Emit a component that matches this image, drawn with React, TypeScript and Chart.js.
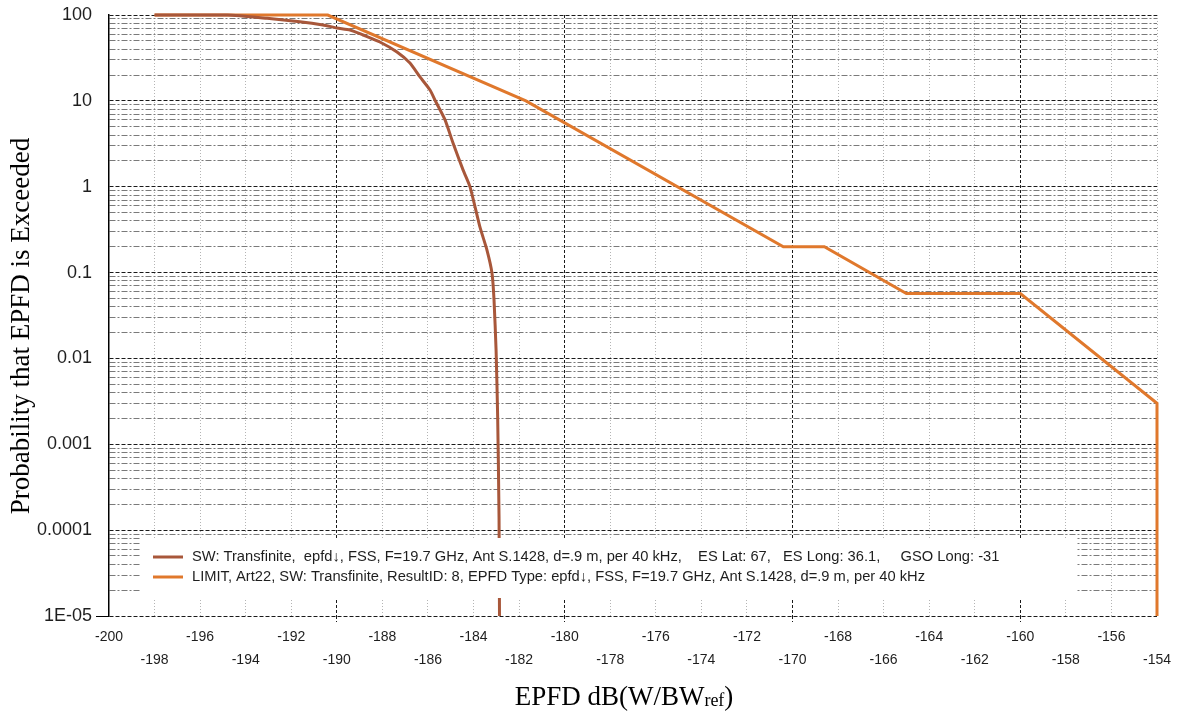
import React, { useEffect, useRef } from "react";
import { Chart, registerables } from "chart.js";

Chart.register(...registerables);

// ---- Data ----
const swLabel =
  "SW: Transfinite,  epfd\u2193, FSS, F=19.7 GHz, Ant S.1428, d=.9 m, per 40 kHz,    ES Lat: 67,   ES Long: 36.1,     GSO Long: -31";
const limitLabel =
  "LIMIT, Art22, SW: Transfinite, ResultID: 8, EPFD Type: epfd\u2193, FSS, F=19.7 GHz, Ant S.1428, d=.9 m, per 40 kHz";

const swX = [
  -198.0, -194.8, -193.06, -191.62, -190.61, -189.99, -189.42, -188.85, -188.11, -187.36,
  -186.79, -186.35, -185.91, -185.65, -185.25, -184.9, -184.46, -184.15, -183.72, -183.41,
  -183.19, -183.1, -183.01, -182.94, -182.88, -182.86,
];
const swY = [
  100, 100, 91.5, 83.5, 76.5, 70.6, 66.9, 58.5, 48.5, 37.1,
  27.6, 19.0, 13.4, 9.7, 6.0, 3.23, 1.57, 0.99, 0.34, 0.183,
  0.099, 0.048, 0.0125, 0.00207, 0.000142, 0.00001,
];

const limitX = [-198, -190.4, -181.7, -170.4, -168.6, -165.0, -160.0, -154.0, -154.0];
const limitY = [100, 100, 10, 0.2, 0.2, 0.057, 0.057, 0.003, 0.00001];

const xMin = -200;
const xMax = -154;
const xStep = 2;
const yMin = 1e-5;
const yMax = 100;
const yDecadeLabels = ["1E-05", "0.0001", "0.001", "0.01", "0.1", "1", "10", "100"]; // exponents -5..2

const xTitleMain = "EPFD dB(W/BW";
const xTitleSub = "ref";
const xTitleEnd = ")";
const yTitle = "Probability that EPFD is Exceeded";

const swColor = "#A8573A";
const limitColor = "#E0782C";

const SANS = '"Liberation Sans", Arial, sans-serif';
const SERIF = '"Liberation Serif", "Times New Roman", serif';

function expOf(v: number) {
  return Math.round(Math.log10(v));
}
function isDecade(v: number) {
  const e = expOf(v);
  return Math.abs(v - Math.pow(10, e)) / Math.pow(10, e) < 1e-6;
}

const overlayPlugin = {
  id: "overlay",
  afterDatasetsDraw(chart: any) {
    const ctx = chart.ctx as CanvasRenderingContext2D;
    // legend box inside chart area
    ctx.save();
    ctx.fillStyle = "#ffffff";
    ctx.fillRect(140, 538, 936, 60);
    const items = chart.data.datasets;
    items.forEach((ds: any, i: number) => {
      const y = 557 + i * 20;
      ctx.strokeStyle = ds.borderColor;
      ctx.lineWidth = 3;
      ctx.setLineDash([]);
      ctx.beginPath();
      ctx.moveTo(153, y);
      ctx.lineTo(183, y);
      ctx.stroke();
      ctx.fillStyle = "#1e1e1e";
      ctx.font = `14.7px ${SANS}`;
      ctx.textBaseline = "middle";
      ctx.textAlign = "left";
      ctx.fillText(ds.label, 192, y);
    });
    ctx.restore();
  },
  afterDraw(chart: any) {
    const ctx = chart.ctx as CanvasRenderingContext2D;
    ctx.save();
    ctx.fillStyle = "#000";
    // Y title
    ctx.font = `27px ${SERIF}`;
    ctx.textAlign = "center";
    ctx.textBaseline = "middle";
    ctx.translate(22, 326);
    ctx.rotate(-Math.PI / 2);
    ctx.fillText(yTitle, 0, 0);
    ctx.restore();

    // X title with subscript
    ctx.save();
    ctx.fillStyle = "#000";
    ctx.textBaseline = "alphabetic";
    ctx.textAlign = "left";
    const mainFont = `27px ${SERIF}`;
    const subFont = `18px ${SERIF}`;
    ctx.font = mainFont;
    const w1 = ctx.measureText(xTitleMain).width;
    const w3 = ctx.measureText(xTitleEnd).width;
    ctx.font = subFont;
    const w2 = ctx.measureText(xTitleSub).width;
    const total = w1 + w2 + w3;
    const cx = 624;
    let x = cx - total / 2;
    const base = 705;
    ctx.font = mainFont;
    ctx.fillText(xTitleMain, x, base);
    x += w1;
    ctx.font = subFont;
    ctx.fillText(xTitleSub, x, base + 1);
    x += w2;
    ctx.font = mainFont;
    ctx.fillText(xTitleEnd, x, base);
    ctx.restore();
  },
};

export default function App() {
  const ref = useRef<HTMLCanvasElement | null>(null);

  useEffect(() => {
    if (!ref.current) return;
    const chart = new Chart(ref.current, {
      type: "line",
      data: {
        datasets: [
          {
            label: swLabel,
            data: swX.map((x, i) => ({ x, y: swY[i] })),
            borderColor: swColor,
            backgroundColor: swColor,
            borderWidth: 3,
            pointRadius: 0,
            tension: 0.2,
            clip: false as any,
          },
          {
            label: limitLabel,
            data: limitX.map((x, i) => ({ x, y: limitY[i] })),
            borderColor: limitColor,
            backgroundColor: limitColor,
            borderWidth: 3,
            pointRadius: 0,
            tension: 0,
            clip: false as any,
          },
        ],
      },
      options: {
        animation: false,
        responsive: false,
        devicePixelRatio: 1,
        layout: { padding: { left: 0, right: 20, top: 15, bottom: 0 } },
        plugins: {
          legend: { display: false },
          tooltip: { enabled: false },
        },
        scales: {
          x: {
            type: "linear",
            min: xMin,
            max: xMax,
            afterFit: (scale: any) => {
              scale.height = 101;
            },
            ticks: {
              stepSize: xStep,
              autoSkip: false,
              maxRotation: 0,
              minRotation: 0,
              padding: 4,
              color: "#1e1e1e",
              font: { family: SANS, size: 14, lineHeight: 23 / 14 },
              callback: (value: any, index: number) =>
                index % 2 === 0 ? String(value) : ["", String(value)],
            },
            grid: {
              drawTicks: true,
              tickLength: 6,
              lineWidth: 1,
              color: (c: any) => {
                const v = c.tick ? c.tick.value : 0;
                if (v === xMin) return "rgba(0,0,0,0)";
                return v % 10 === 0 ? "#1a1a1a" : "#b4b4b4";
              },
              tickColor: (c: any) => {
                const v = c.tick ? c.tick.value : 0;
                return v % 10 === 0 && v !== xMin ? "#1a1a1a" : "rgba(0,0,0,0)";
              },
              tickBorderDash: [3, 2],
            },
            border: {
              display: false,
              dash: (c: any) => {
                if (!c.tick) return [];
                return c.tick.value % 10 === 0 ? [3, 2] : [1, 2];
              },
            },
          },
          y: {
            type: "logarithmic",
            min: yMin,
            max: yMax,
            afterFit: (scale: any) => {
              scale.width = 109;
            },
            afterBuildTicks: (scale: any) => {
              const t: any[] = [];
              for (let e = -5; e <= 2; e++) {
                for (let m = 1; m <= 9; m++) {
                  const v = parseFloat((m * Math.pow(10, e)).toPrecision(6));
                  if (v > yMax * 1.0000001) break;
                  t.push({ value: v, major: m === 1 });
                }
              }
              scale.ticks = t;
            },
            ticks: {
              autoSkip: false,
              padding: 4,
              color: "#1e1e1e",
              font: { family: SANS, size: 18 },
              callback: (value: any) => {
                const v = Number(value);
                if (!isDecade(v)) return "";
                return yDecadeLabels[expOf(v) + 5];
              },
            },
            grid: {
              drawTicks: true,
              tickLength: 13,
              lineWidth: 1,
              color: (c: any) => {
                if (!c.tick) return "#000";
                return isDecade(c.tick.value) ? "#1a1a1a" : "#7a7a7a";
              },
              tickColor: (c: any) => {
                if (!c.tick) return "rgba(0,0,0,0)";
                return Math.abs(c.tick.value - yMin) < 1e-12 ? "#000" : "rgba(0,0,0,0)";
              },
              tickBorderDash: [],
            },
            border: {
              display: true,
              color: "#000",
              width: 1.5,
              dash: (c: any) => {
                if (!c.tick) return [];
                return isDecade(c.tick.value) ? [4, 2] : [6, 2, 2, 2];
              },
            },
          },
        },
      } as any,
      plugins: [overlayPlugin],
    });
    return () => chart.destroy();
  }, []);

  return (
    <div
      style={{
        position: "absolute",
        left: 0,
        top: 0,
        width: 1177,
        height: 717,
        background: "#fff",
      }}
    >
      <canvas ref={ref} width={1177} height={717} style={{ width: 1177, height: 717, display: "block" }} />
    </div>
  );
}
